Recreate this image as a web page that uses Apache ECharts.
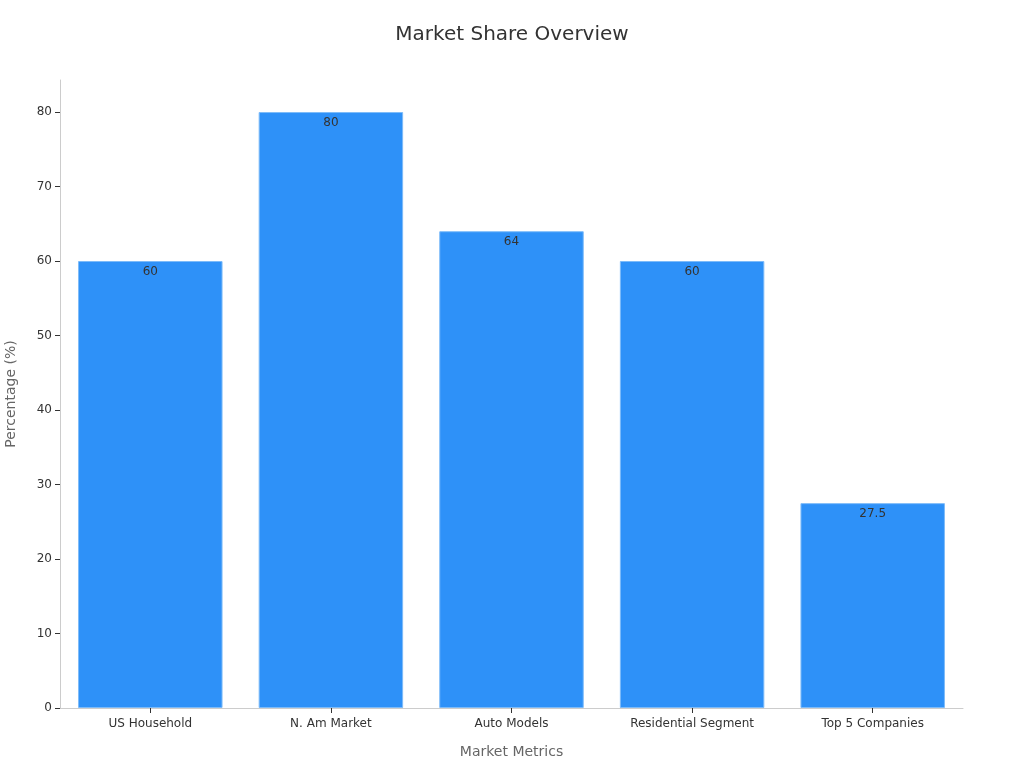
<!DOCTYPE html>
<html>
<head>
<meta charset="utf-8">
<script src="https://cdn.jsdelivr.net/npm/echarts@6/dist/echarts.min.js"></script>
<style>
html,body{margin:0;padding:0;background:#fff;}
#main{width:1024px;height:768px;}
</style>
</head>
<body>
<div id="main"></div>
<script>
const categories = ["US Household", "N. Am Market", "Auto Models", "Residential Segment", "Top 5 Companies"];
const values = [60, 80, 64, 60, 27.5];
const yTicks = [0, 10, 20, 30, 40, 50, 60, 70, 80];

const chart = echarts.init(document.getElementById('main'));
const font = 'DejaVu Sans';
chart.setOption({
  backgroundColor: '#ffffff',
  textStyle: { fontFamily: font },
  title: {
    text: 'Market Share Overview',
    left: 'center',
    top: 20,
    textStyle: { fontFamily: font, fontSize: 20, fontWeight: 'normal', color: '#333' }
  },
  grid: { left: 60, right: 61, top: 80, bottom: 60, containLabel: false, outerBoundsMode: 'none' },
  xAxis: {
    type: 'category',
    data: categories,
    name: 'Market Metrics',
    nameLocation: 'middle',
    nameGap: 37,
    nameTextStyle: { fontFamily: font, fontSize: 14, color: '#666' },
    axisLine: { show: true, lineStyle: { color: '#cccccc' } },
    axisTick: { show: true, alignWithLabel: true, length: 5, lineStyle: { color: '#333' } },
    axisLabel: { fontFamily: font, fontSize: 12, color: '#333', margin: 10 }
  },
  yAxis: {
    type: 'value',
    min: 0,
    max: 84.3,
    interval: 10,
    name: 'Percentage (%)',
    nameLocation: 'middle',
    nameGap: 42,
    nameTextStyle: { fontFamily: font, fontSize: 14, color: '#666' },
    axisLine: { show: true, lineStyle: { color: '#cccccc' } },
    axisTick: { show: true, length: 5, lineStyle: { color: '#333' }, customValues: yTicks },
    axisLabel: {
      fontFamily: font, fontSize: 12, color: '#333', margin: 8,
      customValues: yTicks
    },
    splitLine: { show: false }
  },
  series: [{
    type: 'bar',
    data: values,
    barCategoryGap: '20%',
    itemStyle: { color: '#2E91F8', borderColor: '#7DBBF9', borderWidth: 1 },
    label: {
      show: true,
      position: 'insideTop',
      distance: 5,
      fontFamily: font,
      fontSize: 12,
      color: '#333'
    }
  }]
});
</script>
</body>
</html>
